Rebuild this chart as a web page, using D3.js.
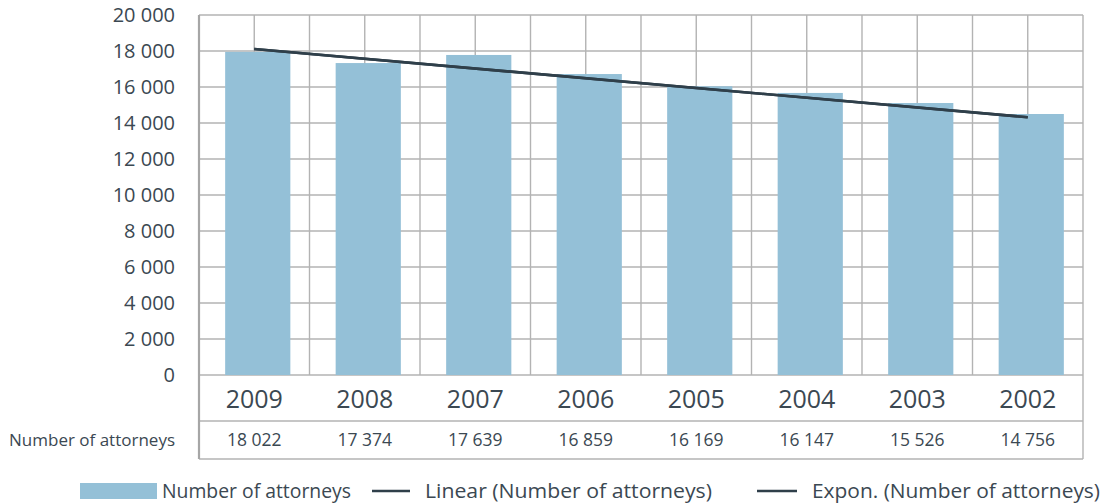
<!DOCTYPE html>
<html>
<head>
<meta charset="utf-8">
<script src="https://cdn.jsdelivr.net/npm/d3@7"></script>
<style>
  body { margin: 0; background: #fff; }
  text { font-family: "Open Sans", "Noto Sans", sans-serif; fill: #3b4852; }
</style>
</head>
<body>
<div id="chart-area"></div>
<script>
// categories and values
var years = ["2009", "2008", "2007", "2006", "2005", "2004", "2003", "2002"];
// bar heights
var barValues = [17950, 17330, 17780, 16720, 16040, 15670, 15110, 14500];
// numbers printed in the data table
var tableValues = ["18 022", "17 374", "17 639", "16 859", "16 169", "16 147", "15 526", "14 756"];
// trend lines, first and last category
var trendYears = ["2009", "2002"];
var linearTrend = [18110, 14320];
var exponTrend = [18110, 14320];
var yTicks = [0, 2000, 4000, 6000, 8000, 10000, 12000, 14000, 16000, 18000, 20000];
var seriesName = "Number of attorneys";
var legendLabels = ["Number of attorneys", "Linear (Number of attorneys)", "Expon. (Number of attorneys)"];

var margin = { left: 199, right: 23, top: 15, bottom: 129 };
var width = 1106 - margin.left - margin.right,
    height = 504 - margin.top - margin.bottom;

var svg = d3.select("#chart-area")
    .append("svg")
    .attr("width", 1106)
    .attr("height", 504);

var g = svg.append("g")
    .attr("transform", "translate(" + margin.left + ", " + margin.top + ")");

// bars sit a little right of the cell centers in the original
var x = d3.scaleBand()
    .domain(years)
    .range([3.5, width + 3.5])
    .paddingInner(0.41)
    .paddingOuter(0.205);

var xc = d3.scaleBand().domain(years).range([0, width]); // full category cells

var y = d3.scaleLinear()
    .domain([0, 20000])
    .range([height, 0]);

var gridColor = "#b3b3b3";

// horizontal gridlines
g.selectAll("line.hgrid")
    .data(yTicks)
    .enter().append("line")
    .attr("class", "hgrid")
    .attr("x1", 0).attr("x2", width)
    .attr("y1", function (d) { return y(d); })
    .attr("y2", function (d) { return y(d); })
    .attr("stroke", gridColor)
    .attr("stroke-width", 1.4);

// vertical gridlines: category edges and centers
var vlines = [];
years.forEach(function (d) {
    vlines.push(xc(d));
    vlines.push(xc(d) + xc.bandwidth() / 2);
});
vlines.push(width);
g.selectAll("line.vgrid")
    .data(vlines)
    .enter().append("line")
    .attr("class", "vgrid")
    .attr("x1", function (d) { return d; })
    .attr("x2", function (d) { return d; })
    .attr("y1", 0).attr("y2", height)
    .attr("stroke", gridColor)
    .attr("stroke-width", 1.4);

// y axis labels
var fmt = function (d) { return d3.format(",")(d).replace(/,/g, " "); };
var yAxisCall = d3.axisLeft(y).tickValues(yTicks).tickFormat(fmt).tickSize(0).tickPadding(24);
var yAxis = g.append("g").attr("class", "y axis").call(yAxisCall);
yAxis.select(".domain").remove();
yAxis.selectAll("text")
    .attr("font-size", "20px")
    .attr("fill", "#3b4852")
    .style("font-family", "'Open Sans', sans-serif");

// bars
g.selectAll("rect.bar")
    .data(barValues)
    .enter().append("rect")
    .attr("class", "bar")
    .attr("x", function (d, i) { return x(years[i]); })
    .attr("width", x.bandwidth())
    .attr("y", function (d) { return y(d); })
    .attr("height", function (d) { return height - y(d); })
    .attr("fill", "#94c0d7");

// trend lines
var line = d3.line()
    .x(function (d) { return xc(d.year) + xc.bandwidth() / 2; })
    .y(function (d) { return y(d.value); });
[linearTrend, exponTrend].forEach(function (vals) {
    g.append("path")
        .datum(trendYears.map(function (yr, i) { return { year: yr, value: vals[i] }; }))
        .attr("d", line)
        .attr("fill", "none")
        .attr("stroke", "#2f3f4a")
        .attr("stroke-width", 2.6);
});

// data table
var row1 = 46, row2 = 84;
g.append("line").attr("x1", 0).attr("x2", width).attr("y1", height + row1).attr("y2", height + row1)
    .attr("stroke", gridColor).attr("stroke-width", 1.4);
g.append("line").attr("x1", 0).attr("x2", width).attr("y1", height + row2).attr("y2", height + row2)
    .attr("stroke", gridColor).attr("stroke-width", 1.4);
g.append("line").attr("x1", width).attr("x2", width).attr("y1", height).attr("y2", height + row2)
    .attr("stroke", gridColor).attr("stroke-width", 1.4);
// left axis line, through the table
g.append("line").attr("x1", 0).attr("x2", 0).attr("y1", 0).attr("y2", height + row2)
    .attr("stroke", "#a6a6a6").attr("stroke-width", 2.2);

g.selectAll("text.year")
    .data(years)
    .enter().append("text")
    .attr("class", "year")
    .attr("x", function (d) { return xc(d) + xc.bandwidth() / 2; })
    .attr("y", height + 24)
    .attr("dy", "0.35em")
    .attr("text-anchor", "middle")
    .attr("font-size", "25px")
    .text(function (d) { return d; });

g.selectAll("text.val")
    .data(tableValues)
    .enter().append("text")
    .attr("class", "val")
    .attr("x", function (d, i) { return xc(years[i]) + xc.bandwidth() / 2; })
    .attr("y", height + 65)
    .attr("dy", "0.35em")
    .attr("text-anchor", "middle")
    .attr("font-size", "17.5px")
    .text(function (d) { return d; });

g.append("text")
    .attr("x", -24)
    .attr("y", height + 65)
    .attr("dy", "0.35em")
    .attr("text-anchor", "end")
    .attr("font-size", "17px")
    .text(seriesName);

// legend
var legend = svg.append("g").attr("transform", "translate(0, 491)");
legend.append("rect").attr("x", 80).attr("y", -8).attr("width", 77).attr("height", 16).attr("fill", "#94c0d7");
legend.append("line").attr("x1", 372).attr("x2", 410).attr("y1", 0).attr("y2", 0)
    .attr("stroke", "#2f3f4a").attr("stroke-width", 2.6);
legend.append("line").attr("x1", 757).attr("x2", 797).attr("y1", 0).attr("y2", 0)
    .attr("stroke", "#2f3f4a").attr("stroke-width", 2.6);
var legendX = [162, 425, 812];
var legendW = [189, 287, 288];
legend.selectAll("text")
    .data(legendLabels)
    .enter().append("text")
    .attr("x", function (d, i) { return legendX[i]; })
    .attr("y", 0)
    .attr("dy", "0.35em")
    .attr("font-size", "20px")
    .attr("textLength", function (d, i) { return legendW[i]; })
    .attr("lengthAdjust", "spacingAndGlyphs")
    .text(function (d) { return d; });
</script>
</body>
</html>
